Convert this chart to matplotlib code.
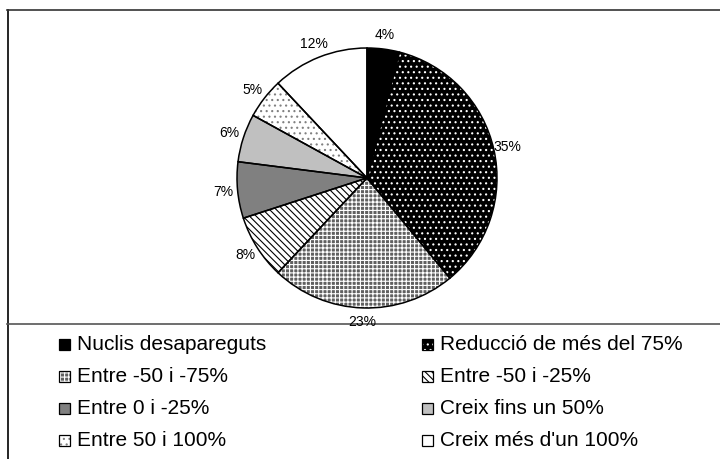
import numpy as np
import matplotlib.pyplot as plt
from matplotlib.patches import Rectangle
from matplotlib.lines import Line2D

plt.rcParams['font.family'] = ['Liberation Sans', 'DejaVu Sans']
plt.rcParams['hatch.linewidth'] = 0.8

# Dades del gràfic
categories = ['Nuclis desapareguts', 'Reducció de més del 75%', 'Entre -50 i -75%',
              'Entre -50 i -25%', 'Entre 0 i -25%', 'Creix fins un 50%',
              'Entre 50 i 100%', "Creix més d'un 100%"]
valors = [4, 35, 23, 8, 7, 6, 5, 12]
etiquetes = ['4%', '35%', '23%', '8%', '7%', '6%', '5%', '12%']

# Estil de cada sector: fons, trama i color de la trama
fons = ['black', 'black', '#606060', 'white', '#808080', '#c0c0c0', 'white', 'white']
trames = [None, '...', '++++', '\\\\\\\\\\', None, None, '...', None]
color_trama = ['black', 'white', 'white', 'black', 'black', 'black', '#808080', 'black']

W, H = 720, 459
fig = plt.figure(figsize=(W / 100, H / 100), dpi=100)
ax = fig.add_axes([0, 0, 1, 1])

centre = (367, H - 178)
radi = 130

# Primer els farciments amb trama, després el contorn negre
wedges, _ = ax.pie(valors, startangle=90, counterclock=False, center=centre,
                   radius=radi, wedgeprops=dict(linewidth=0), frame=True)
for w, fc, h, hc in zip(wedges, fons, trames, color_trama):
    w.set_facecolor(fc)
    w.set_edgecolor(hc)
    if h:
        w.set_hatch(h)
ax.pie(valors, startangle=90, counterclock=False, center=centre, radius=radi,
       wedgeprops=dict(linewidth=1.1, edgecolor='black', facecolor='none'), frame=True)
ax.set_xlim(0, W)
ax.set_ylim(0, H)
ax.axis('off')

# Etiquetes de percentatge fora del pastís
for w, txt in zip(wedges, etiquetes):
    ang = np.deg2rad((w.theta1 + w.theta2) / 2)
    x = centre[0] + 1.11 * radi * np.cos(ang)
    y = centre[1] + 1.11 * radi * np.sin(ang)
    ax.text(x, y, txt, ha='center', va='center', fontsize=10)

# Vores del requadre
ax.add_line(Line2D([7.5, 7.5], [0, H - 10], color='black', lw=1.2))
ax.add_line(Line2D([7, W], [H - 10, H - 10], color='#333333', lw=1.2))
ax.add_line(Line2D([7, W], [H - 324, H - 324], color='#555555', lw=1.2))

# Llegenda en dues columnes, ordenada per files
col_x = [59, 422]
fila_y = [344, 376, 408, 440]
mida = 11
for i, nom in enumerate(categories):
    x0 = col_x[i % 2]
    y0 = H - fila_y[i // 2]
    r = Rectangle((x0, y0 - mida / 2), mida, mida, facecolor=fons[i],
                  edgecolor=color_trama[i], linewidth=0, hatch=trames[i])
    ax.add_patch(r)
    ax.add_patch(Rectangle((x0, y0 - mida / 2), mida, mida, facecolor='none',
                           edgecolor='black', linewidth=0.9))
    ax.text(x0 + mida + 7, y0, nom, ha='left', va='center', fontsize=15)

fig.savefig('out.png', dpi=100)
